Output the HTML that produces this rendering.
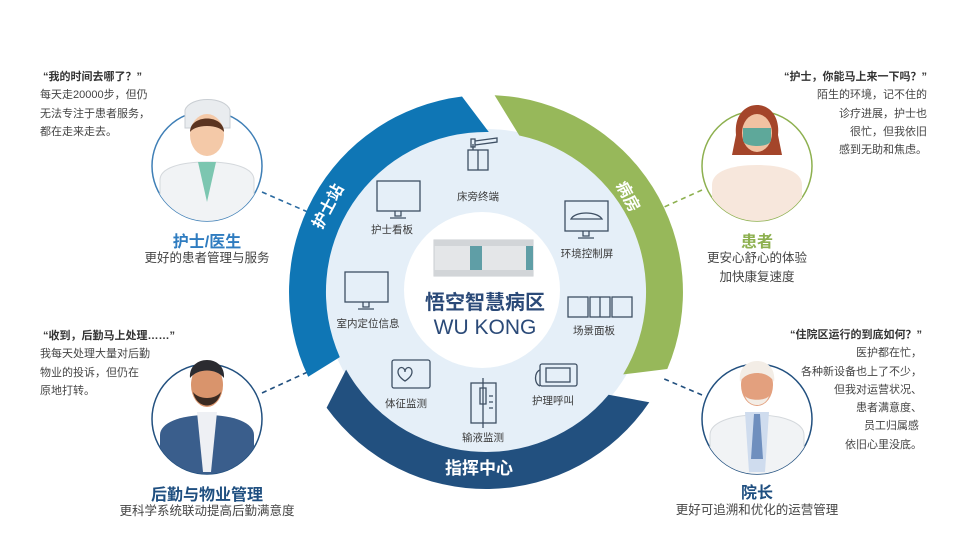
<!DOCTYPE html>
<html><head><meta charset="utf-8">
<style>
html,body{margin:0;padding:0;background:#fff;}
body{width:978px;height:548px;position:relative;overflow:hidden;font-family:"Liberation Sans","Noto Sans CJK SC",sans-serif;color:#444;}
.t{position:absolute;font-size:11px;line-height:18.3px;color:#444;white-space:nowrap;}
.t b{color:#333;}
.r{text-align:right;}
.c{text-align:center;}
.h{position:absolute;font-weight:bold;font-size:16px;white-space:nowrap;text-align:center;}
.s{position:absolute;font-size:12.5px;line-height:19px;color:#444;white-space:nowrap;text-align:center;}
</style></head><body>
<svg width="978" height="548" style="position:absolute;left:0;top:0" font-family="Liberation Sans, Noto Sans CJK SC, sans-serif">
<defs>
<clipPath id="c1"><circle cx="207" cy="166" r="55"/></clipPath>
<clipPath id="c2"><circle cx="757" cy="166" r="55"/></clipPath>
<clipPath id="c3"><circle cx="207" cy="419" r="55"/></clipPath>
<clipPath id="c4"><circle cx="757" cy="419" r="55"/></clipPath>
</defs>
<!-- dashed connectors -->
<g stroke-width="1.6" stroke-dasharray="5,4" fill="none">
<line x1="262" y1="192" x2="310" y2="213" stroke="#2a6aa0"/>
<line x1="702" y1="190" x2="662" y2="208" stroke="#8db04f"/>
<line x1="262" y1="393" x2="312" y2="370" stroke="#22507f"/>
<line x1="702" y1="395" x2="662" y2="378" stroke="#22507f"/>
</g>
<circle cx="486" cy="292" r="163" fill="#e5eff8"/>
<path d="M308.2,376.8 A197,197 0 0 1 462,96.5 L488.8,132 A160,160 0 0 0 339.8,357.1 Z" fill="#0f76b5"/>
<path d="M494.6,95.2 A197,197 0 0 1 667.3,369 L623.2,374.4 A160,160 0 0 0 519.3,135.5 Z" fill="#97b85a"/>
<path d="M649.3,402.2 A197,197 0 0 1 326.6,407.8 L346.1,369.6 A160,160 0 0 0 608.6,394.8 Z" fill="#22507f"/>
<text x="0" y="0" transform="translate(329,207) rotate(-62)" fill="#fff" font-size="16" font-weight="bold" text-anchor="middle" dominant-baseline="middle">护士站</text>
<text x="0" y="0" transform="translate(627,197) rotate(62)" fill="#fff" font-size="16" font-weight="bold" text-anchor="middle" dominant-baseline="middle">病房</text>
<text x="479" y="474" fill="#fff" font-size="17" font-weight="bold" text-anchor="middle">指挥中心</text>
<circle cx="482" cy="290" r="78" fill="#fff"/>
<!-- device -->
<g>
<rect x="434" y="240" width="99" height="36" fill="#e4e6e8" stroke="#c8ccd0"/>
<rect x="434" y="240" width="99" height="6" fill="#d2d5d8"/>
<rect x="434" y="270" width="99" height="6" fill="#d2d5d8"/>
<rect x="470" y="246" width="12" height="24" fill="#5f9ea6"/>
<rect x="526" y="246" width="7" height="24" fill="#5f9ea6"/>
</g>
<text x="485" y="309" fill="#2b4a78" font-size="20" font-weight="bold" text-anchor="middle">悟空智慧病区</text>
<text x="485" y="334" fill="#2b4a78" font-size="21" text-anchor="middle">WU KONG</text>
<!-- icons -->
<g fill="none" stroke="#3e4f63" stroke-width="1.3">
<!-- bedside -->
<rect x="468" y="150" width="20" height="20"/><line x1="478" y1="150" x2="478" y2="170"/>
<path d="M473,150 v-6 M471,139 h4 v8 h-4z M475,141 l22,-3 v4 l-22,3"/>
<!-- nurse board -->
<rect x="377" y="181" width="43" height="30"/><path d="M395,211 v5 h6 v-5 M390,218 h16"/>
<!-- env screen -->
<rect x="565" y="201" width="43" height="30"/><path d="M583,231 v5 h6 v-5 M578,238 h16 M571,219 c4,-8 26,-8 31,0 z"/>
<!-- location -->
<rect x="345" y="272" width="43" height="30"/><path d="M363,302 v5 h6 v-5 M358,309 h16"/>
<!-- scene panel -->
<rect x="568" y="297" width="20" height="20"/><rect x="590" y="297" width="20" height="20"/><rect x="612" y="297" width="20" height="20"/>
<line x1="600" y1="297" x2="600" y2="317"/>
<!-- vitals -->
<rect x="392" y="360" width="38" height="28" rx="2"/><path d="M398,372 c0,-6 7,-6 7,0 c0,-6 7,-6 7,0 c0,5 -7,9 -7,9 c0,0 -7,-4 -7,-9z"/>
<!-- infusion -->
<rect x="471" y="383" width="25" height="40"/><path d="M483,378 v50 M480,388 h6 v16 h-6z M489,396 h4 M489,402 h4 M489,408 h4"/>
<!-- call -->
<rect x="540" y="364" width="37" height="22" rx="2"/><rect x="546" y="368" width="24" height="14"/><path d="M540,370 c-6,2 -6,14 0,16"/>
</g>
<g fill="#3a3a3a" font-size="10.5" text-anchor="middle">
<text x="478" y="200">床旁终端</text>
<text x="392" y="233">护士看板</text>
<text x="587" y="257">环境控制屏</text>
<text x="368" y="327">室内定位信息</text>
<text x="594" y="334">场景面板</text>
<text x="406" y="407">体征监测</text>
<text x="483" y="441">输液监测</text>
<text x="553" y="404">护理呼叫</text>
</g>
<!-- nurse -->
<circle cx="207" cy="166" r="55" fill="#fff" stroke="#3f7fb6" stroke-width="1.5"/>
<g clip-path="url(#c1)">
<path d="M160,225 v-45 c0,-12 20,-18 47,-18 c27,0 47,6 47,18 v45z" fill="#f1f3f5" stroke="#d4d8dc"/>
<path d="M198,162 h18 l-9,40z" fill="#7cc6b0"/>
</g>
<path d="M185,110 c5,-14 40,-14 45,0 l0,18 h-45z" fill="#e9ecef" stroke="#c9ced3"/>
<ellipse cx="207" cy="135" rx="17" ry="21" fill="#f4c9a8"/>
<path d="M190,132 c0,-18 34,-18 34,0 c-6,-8 -28,-8 -34,0z" fill="#5b3420"/>
<!-- patient -->
<circle cx="757" cy="166" r="55" fill="#fff" stroke="#8db04f" stroke-width="1.5"/>
<g clip-path="url(#c2)"><path d="M712,225 v-40 c0,-14 20,-20 45,-20 c25,0 45,6 45,20 v40z" fill="#f7e7dc"/></g>
<path d="M736,135 c-4,-40 46,-40 42,0 l4,20 h-50z" fill="#a4452a"/>
<ellipse cx="757" cy="133" rx="15" ry="19" fill="#f1c2a2"/>
<path d="M743,128 h28 v12 c0,8 -28,8 -28,0z" fill="#5ea89a"/>
<!-- manager -->
<circle cx="207" cy="419" r="55" fill="#fff" stroke="#22507f" stroke-width="1.5"/>
<g clip-path="url(#c3)">
<path d="M160,480 v-45 c0,-12 20,-20 47,-20 c27,0 47,8 47,20 v45z" fill="#3a5e8c"/>
<path d="M197,412 h20 l-6,60 h-8z" fill="#eef0f4"/>
</g>
<ellipse cx="207" cy="385" rx="16" ry="22" fill="#d9946c"/>
<path d="M190,378 c-2,-24 36,-24 34,0 c-8,-10 -26,-10 -34,0z" fill="#2b2b30"/>
<path d="M193,392 c4,18 24,18 28,0 c-6,8 -22,8 -28,0z" fill="#3a2a22"/>
<!-- director -->
<circle cx="757" cy="419" r="55" fill="#fff" stroke="#22507f" stroke-width="1.5"/>
<g clip-path="url(#c4)">
<path d="M710,480 v-45 c0,-12 20,-20 47,-20 c27,0 47,8 47,20 v45z" fill="#f1f3f5" stroke="#d4d8dc"/>
<path d="M745,412 h24 l-4,60 h-16z" fill="#cfdcee"/>
<path d="M754,414 h6 l3,45 h-12z" fill="#6f8fbe"/>
</g>
<ellipse cx="757" cy="385" rx="16" ry="21" fill="#e3a07e"/>
<path d="M740,382 c-4,-28 38,-28 34,0 c-6,-12 -28,-12 -34,0z" fill="#f3ede6"/>
<path d="M745,396 c4,12 20,12 24,0 c-4,5 -20,5 -24,0z" fill="#f3ede6"/>
</svg>

<div class="t" style="left:40px;top:68px"><b>&nbsp;“我的时间去哪了？”</b><br>每天走20000步，但仍<br>无法专注于患者服务，<br>都在走来走去。</div>
<div class="h" style="left:127px;top:228px;width:160px;color:#2f7cc0">护士/医生</div>
<div class="s" style="left:107px;top:249px;width:200px">更好的患者管理与服务</div>

<div class="t r" style="right:51px;top:68px"><b>“护士，你能马上来一下吗？”</b><br>陌生的环境，记不住的<br>诊疗进展，护士也<br>很忙，但我依旧<br>感到无助和焦虑。</div>
<div class="h" style="left:677px;top:228px;width:160px;color:#8db04f">患者</div>
<div class="s" style="left:657px;top:249px;width:200px">更安心舒心的体验<br>加快康复速度</div>

<div class="t" style="left:40px;top:327px"><b>&nbsp;“收到，后勤马上处理……”</b><br>我每天处理大量对后勤<br>物业的投诉，但仍在<br>原地打转。</div>
<div class="h" style="left:107px;top:481px;width:200px;color:#1f4f80">后勤与物业管理</div>
<div class="s" style="left:87px;top:502px;width:240px">更科学系统联动提高后勤满意度</div>

<div class="t r" style="right:56px;top:326px"><b>“住院区运行的到底如何？”</b><br>医护都在忙，<br>各种新设备也上了不少，<br>但我对运营状况、<br>患者满意度、<br>员工归属感&nbsp;<br>依旧心里没底。</div>
<div class="h" style="left:677px;top:479px;width:160px;color:#1f4f80">院长</div>
<div class="s" style="left:637px;top:501px;width:240px">更好可追溯和优化的运营管理</div>
</body></html>
